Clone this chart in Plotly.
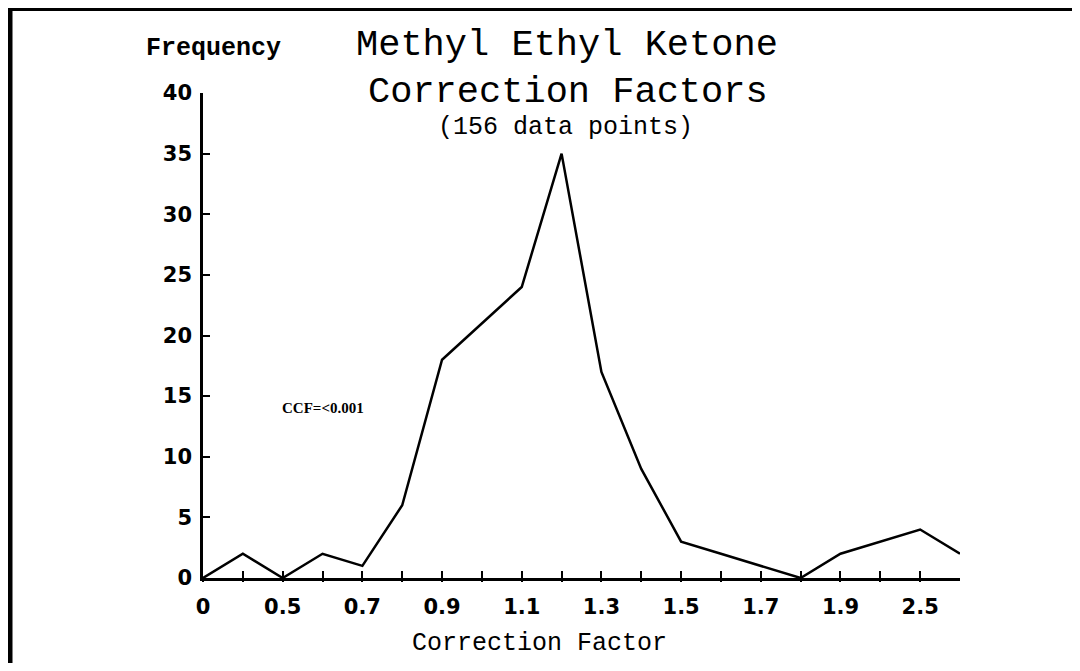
import plotly.graph_objects as go

# Data
categories = ["0", "0.4", "0.5", "0.6", "0.7", "0.8", "0.9", "1.0", "1.1", "1.2",
              "1.3", "1.4", "1.5", "1.6", "1.7", "1.8", "1.9", "2.0", "2.5", "3.0"]
frequency = [0, 2, 0, 2, 1, 6, 18, 21, 24, 35, 17, 9, 3, 2, 1, 0, 2, 3, 4, 2]
tick_labels = ["0", "0.5", "0.7", "0.9", "1.1", "1.3", "1.5", "1.7", "1.9", "2.5"]
tick_idx = [0, 2, 4, 6, 8, 10, 12, 14, 16, 18]
y_ticks = [0, 5, 10, 15, 20, 25, 30, 35, 40]

idx = list(range(len(categories)))

OFF = 8  # default page margin
W, H = 1080 - 2 * OFF, 671 - 2 * OFF
L, R, T, B = 203 - OFF, 960 - OFF, 93 - OFF, 578 - OFF

def px(x):
    return (x - OFF - L) / (R - L)

def py(y):
    return (B - (y - OFF)) / (B - T)

fig = go.Figure()
fig.add_trace(go.Scatter(x=idx, y=frequency, mode="lines",
                         line=dict(color="black", width=2.5),
                         hoverinfo="skip", showlegend=False))
fig.add_trace(go.Scatter(x=idx, y=frequency, mode="lines", xaxis="x2",
                         line=dict(color="rgba(0,0,0,0)", width=0),
                         hoverinfo="skip", showlegend=False))

tickfont = dict(family="DejaVu Sans", size=21, color="black", weight="bold")

fig.update_layout(
    width=W, height=H, autosize=False,
    paper_bgcolor="white", plot_bgcolor="white",
    margin=dict(l=L, r=W - R, t=T, b=H - B, pad=0),
    xaxis=dict(range=[0, len(categories) - 1], tickmode="array",
               tickvals=idx, ticktext=[tick_labels[tick_idx.index(i)] if i in tick_idx else "" for i in idx],
               ticks="inside", ticklen=7, tickwidth=2, tickcolor="black",
               showline=True, linecolor="black", linewidth=2.5,
               showgrid=False, zeroline=False, tickfont=tickfont,
               ticklabelstandoff=8),
    xaxis2=dict(range=[0, len(categories) - 1], overlaying="x", side="bottom",
                tickmode="array", tickvals=idx[:-1], ticktext=[""] * (len(idx) - 1),
                ticks="outside", ticklen=3, tickwidth=2, tickcolor="black",
                showline=False, showgrid=False, zeroline=False),
    yaxis=dict(range=[0, 40], tickmode="array", tickvals=y_ticks,
               ticktext=[str(v) for v in y_ticks],
               ticks="inside", ticklen=7, tickwidth=2, tickcolor="black",
               showline=True, linecolor="black", linewidth=2.5,
               showgrid=False, zeroline=False, tickfont=tickfont,
               ticklabelstandoff=4),
    shapes=[
        dict(type="line", xref="paper", yref="paper", x0=px(OFF), x1=px(W + OFF), y0=py(8.5), y1=py(8.5),
             line=dict(color="black", width=5)),
        dict(type="line", xref="paper", yref="paper", x0=px(10), x1=px(10), y0=py(6), y1=py(H + OFF),
             line=dict(color="black", width=5)),
    ],
)

mono = "Liberation Mono"
annos = [
    dict(text="Methyl Ethyl Ketone", x=px(567), y=py(45), size=37, bold=False),
    dict(text="Correction Factors", x=px(568), y=py(92), size=37, bold=False),
    dict(text="(156 data points)", x=px(565), y=py(128), size=25, bold=False),
    dict(text="Frequency", x=px(213), y=py(48), size=25, bold=True),
    dict(text="Correction Factor", x=px(539), y=py(643), size=25, bold=False),
]
for a in annos:
    fig.add_annotation(text=a["text"], x=a["x"], y=a["y"], xref="paper", yref="paper",
                       xanchor="center", yanchor="middle", showarrow=False,
                       font=dict(family=mono, size=a["size"], color="black",
                                 weight="bold" if a["bold"] else "normal"))
fig.add_annotation(text="CCF=<0.001", x=px(280), y=py(408), xref="paper", yref="paper",
                   xanchor="left", yanchor="middle", showarrow=False,
                   font=dict(family="Liberation Sans Narrow", size=15, color="black", weight="bold"))

fig.write_html("out.html")
